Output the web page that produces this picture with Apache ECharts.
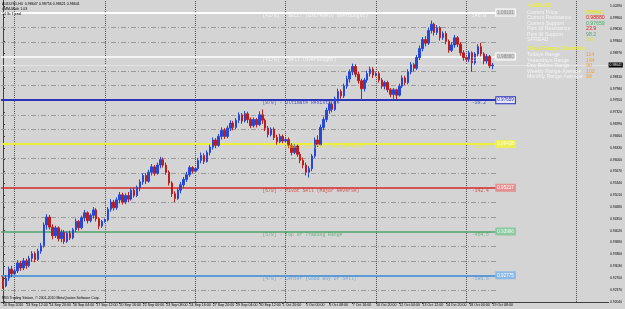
<!DOCTYPE html>
<html><head><meta charset="utf-8">
<script src="https://cdn.jsdelivr.net/npm/echarts@6/dist/echarts.min.js"></script>
<style>html,body{margin:0;padding:0;background:#D4D4D4}#c{width:625px;height:309px}</style>
</head><body><div id="c"></div><script>
// ---------- data ----------
const timeLabels = ['10 Sep 2010','13 Sep 12:00','14 Sep 20:00','16 Sep 04:00','17 Sep 12:00','20 Sep 16:00','22 Sep 00:00','23 Sep 08:00','24 Sep 16:00','27 Sep 20:00','29 Sep 04:00','30 Sep 12:00','1 Oct 20:00','5 Oct 00:00','6 Oct 08:00','7 Oct 16:00','10 Oct 20:00','12 Oct 04:00','13 Oct 12:00','14 Oct 20:00','18 Oct 00:00','19 Oct 08:00'];
const timeLabelBars = [0,8,16,24,32,40,48,56,64,72,80,88,96,104,112,120,128,136,144,152,160,168];
const weekStartBars = [4,35,66,97,128,159,196.6];
const priceTicks = [0.92040,0.92370,0.92700,0.93030,0.93360,0.93690,0.94020,0.94350,0.94680,0.95010,0.95340,0.95670,0.96000,0.96330,0.96660,0.96990,0.97320,0.97650,0.97980,0.98310,0.98640,0.98970,0.99300,0.99630,0.99960,1.00290];
// [open, close, low, high]
const candles = [
[.9262,.9248,.9240,.9275],[.9248,.9270,.9244,.9278],[.9270,.9295,.9262,.9302],[.9295,.9282,.9272,.9304],
[.9282,.9290,.9278,.9296],[.9290,.9312,.9284,.9320],[.9312,.9298,.9290,.9318],[.9298,.9318,.9292,.9326],
[.9318,.9305,.9296,.9324],[.9305,.9325,.9300,.9332],[.9325,.9338,.9315,.9345],[.9338,.9322,.9314,.9344],
[.9322,.9345,.9318,.9352],[.9345,.9360,.9338,.9368],[.9360,.9418,.9355,.9425],[.9418,.9440,.9405,.9448],
[.9440,.9412,.9405,.9446],[.9412,.9388,.9378,.9420],[.9388,.9410,.9382,.9416],[.9410,.9380,.9372,.9414],
[.9380,.9398,.9370,.9405],[.9398,.9372,.9365,.9404],[.9372,.9395,.9368,.9400],[.9395,.9382,.9376,.9402],
[.9382,.9405,.9378,.9410],[.9405,.9428,.9398,.9436],[.9428,.9410,.9402,.9432],[.9410,.9438,.9406,.9444],
[.9438,.9452,.9428,.9460],[.9452,.9430,.9422,.9456],[.9430,.9445,.9425,.9450],[.9445,.9460,.9436,.9468],
[.9460,.9435,.9428,.9465],[.9435,.9415,.9406,.9440],[.9415,.9428,.9410,.9432],[.9428,.9432,.9424,.9436],
[.9432,.9462,.9428,.9468],[.9462,.9482,.9455,.9490],[.9482,.9466,.9458,.9488],[.9466,.9488,.9460,.9495],
[.9488,.9502,.9478,.9510],[.9502,.9482,.9475,.9508],[.9482,.9500,.9476,.9506],[.9500,.9490,.9482,.9510],
[.9490,.9515,.9486,.9520],[.9515,.9500,.9494,.9522],[.9500,.9522,.9496,.9528],[.9522,.9538,.9512,.9545],
[.9538,.9556,.9530,.9562],[.9556,.9540,.9532,.9562],[.9540,.9565,.9536,.9572],[.9565,.9580,.9556,.9588],
[.9580,.9562,.9555,.9585],[.9562,.9585,.9558,.9592],[.9585,.9600,.9576,.9608],[.9600,.9585,.9578,.9606],
[.9585,.9565,.9558,.9592],[.9565,.9535,.9528,.9570],[.9535,.9505,.9496,.9540],[.9505,.9492,.9482,.9512],
[.9492,.9515,.9488,.9520],[.9515,.9530,.9506,.9538],[.9530,.9545,.9522,.9552],[.9545,.9558,.9538,.9566],
[.9558,.9578,.9552,.9584],[.9578,.9568,.9562,.9582],[.9568,.9575,.9564,.9578],[.9575,.9598,.9570,.9605],
[.9598,.9612,.9590,.9620],[.9612,.9595,.9588,.9618],[.9595,.9620,.9592,.9626],[.9620,.9635,.9612,.9642],
[.9635,.9655,.9628,.9662],[.9655,.9640,.9632,.9660],[.9640,.9665,.9636,.9672],[.9665,.9682,.9656,.9690],
[.9682,.9665,.9658,.9688],[.9665,.9688,.9660,.9695],[.9688,.9702,.9680,.9710],[.9702,.9690,.9682,.9708],
[.9690,.9710,.9685,.9716],[.9710,.9725,.9702,.9732],[.9725,.9708,.9700,.9730],[.9708,.9728,.9704,.9736],
[.9728,.9712,.9702,.9734],[.9712,.9695,.9688,.9718],[.9695,.9712,.9690,.9718],[.9712,.9698,.9690,.9716],
[.9698,.9725,.9694,.9735],[.9725,.9710,.9700,.9740],[.9710,.9688,.9680,.9715],[.9688,.9670,.9662,.9694],
[.9670,.9685,.9665,.9690],[.9685,.9662,.9655,.9690],[.9662,.9650,.9642,.9670],[.9650,.9665,.9646,.9672],
[.9665,.9652,.9646,.9670],[.9652,.9656,.9648,.9660],[.9656,.9640,.9632,.9662],[.9640,.9620,.9612,.9646],
[.9620,.9638,.9615,.9644],[.9638,.9615,.9608,.9642],[.9615,.9598,.9590,.9622],[.9598,.9585,.9576,.9606],
[.9585,.9565,.9556,.9592],[.9565,.9575,.9550,.9582],[.9575,.9610,.9568,.9616],[.9610,.9655,.9605,.9662],
[.9655,.9642,.9635,.9668],[.9642,.9690,.9638,.9698],[.9690,.9712,.9682,.9720],[.9712,.9738,.9705,.9745],
[.9738,.9755,.9728,.9762],[.9755,.9740,.9732,.9760],[.9740,.9770,.9736,.9776],[.9770,.9790,.9762,.9798],
[.9790,.9778,.9770,.9796],[.9778,.9805,.9772,.9812],[.9805,.9825,.9798,.9834],[.9825,.9845,.9815,.9852],
[.9845,.9860,.9836,.9868],[.9860,.9838,.9830,.9866],[.9838,.9820,.9812,.9845],[.9820,.9798,.9765,.9826],
[.9798,.9822,.9790,.9828],[.9822,.9840,.9815,.9848],[.9840,.9852,.9832,.9860],[.9852,.9836,.9828,.9858],
[.9836,.9840,.9832,.9844],[.9840,.9822,.9815,.9846],[.9822,.9805,.9798,.9828],[.9805,.9815,.9796,.9820],
[.9815,.9795,.9788,.9820],[.9795,.9782,.9774,.9800],[.9782,.9795,.9770,.9800],[.9795,.9780,.9768,.9798],
[.9780,.9805,.9776,.9812],[.9805,.9828,.9800,.9835],[.9828,.9815,.9808,.9834],[.9815,.9845,.9810,.9852],
[.9845,.9865,.9838,.9872],[.9865,.9855,.9846,.9870],[.9855,.9885,.9850,.9892],[.9885,.9910,.9878,.9918],
[.9910,.9935,.9902,.9942],[.9935,.9925,.9916,.9945],[.9925,.9960,.9920,.9968],[.9960,.9978,.9952,.9988],
[.9978,.9955,.9946,.9982],[.9955,.9968,.9948,.9975],[.9968,.9940,.9932,.9972],[.9940,.9952,.9934,.9958],
[.9952,.9930,.9922,.9958],[.9930,.9905,.9898,.9935],[.9905,.9920,.9900,.9928],[.9920,.9940,.9912,.9948],
[.9940,.9922,.9914,.9945],[.9922,.9898,.9890,.9928],[.9898,.9885,.9876,.9905],[.9885,.9880,.9874,.9888],
[.9880,.9898,.9872,.9904],[.9898,.9870,.9845,.9902],[.9870,.9895,.9865,.9900],[.9895,.9915,.9888,.9922],
[.9915,.9895,.9888,.9926],[.9895,.9875,.9866,.9900],[.9875,.9888,.9868,.9895],[.9888,.9862,.9855,.9892],
[.9862,.98641,.9852,.9870]
];
const levelPrices = [1.00101,0.98880,0.97659,0.96438,0.95217,0.93996,0.92775];
const levelNames = ['[+2/8] - SELL! (Extremely Overbought)','[+1/8] - Sell (Overbought)','[8/8] - Ultimate Resistance','[7/8] - Weak Stop (Stop and Reverse)','[6/8] - Pivot Sell (Major Reverse)','[5/8] - Top of Trading Range','[4/8] - Center (Good Buy or Sell)'];
const levelPips = ['146.0','23.9','-98.2','-220.3','-342.4','-464.5','-586.6'];
const subLevels = [0.99694,0.99287,0.98473,0.98066,0.97252,0.96845,0.96031,0.95624,0.94810,0.94403,0.93589,0.93182,0.92368];
const currentPrice = 0.98641;
const infoRows = ['Current Price','Current Resistance','Current Support','Pips till Resistance','Pips till Support','SPREAD'];
const infoValues = ['0.98641','0.98880','0.97659','23.9','98.2','3.0'];
const statRows = ['Todays Range','Yesterdays Range','Day Before Range','Weekly Range Average','Monthly Range Average'];
const statValues = ['114','144','90','102','99'];

// ---------- styles / layout ----------
const XMIN = -0.68, XMAX = 207.84, LINE_END = 169.3, DESC_X = 88.9, PIPS_X = 160.8;
const YMIN = 0.92032, YMAX = 1.00453;
const UP = '#2548D6', DN = '#BC1E1E';
const LC = ['#FFFFFF','#FFFFFF','#2B35B8','#EEEE3A','#D42A2A','#4EA56A','#5A9BD8'];
const LW = [2,1.5,2,2,1.5,1.5,2];
const BOX_BG = ['#D4D4D4','#D4D4D4','#E6E6F6','#EEEE5A','#E49090','#8CC8A0','#8CB8E6'];
const BOX_BD = ['#FFFFFF','#FFFFFF','#2B35B8','#EEEE5A','#E49090','#8CC8A0','#8CB8E6'];
const BOX_TX = ['#8A8A8A','#8A8A8A','#2B35B8','#FFFFE0','#FFFFFF','#F0FFF0','#FFFFFF'];
const VAL_COL = ['#E6E600','#E02020','#40B060','#E02020','#5E9E7E','#D8D850'];
const SANS = 'Liberation Sans', MONO = 'Liberation Mono';

const markData = [];
weekStartBars.forEach(b => markData.push({xAxis:b, lineStyle:{color:'#505050',type:[1,1],width:1}, label:{show:false}}));
subLevels.forEach(p => markData.push([{coord:[XMIN,p], lineStyle:{color:'#9A9A9A',width:1,type:[5,2,1,2]}, label:{show:false}},{coord:[LINE_END,p]}]));
markData.push([{coord:[XMIN,currentPrice], lineStyle:{color:'#E4E4E4',width:1,type:'solid'},
  label:{show:true,position:'end',distance:0,formatter:currentPrice.toFixed(5),backgroundColor:'#000',color:'#FFF',fontSize:3.4,fontFamily:SANS,padding:[1,1,1,1]}},{coord:[XMAX,currentPrice]}]);
levelPrices.forEach((p,i) => markData.push([{coord:[XMIN,p], lineStyle:{color:LC[i],width:LW[i],type:'solid'},
  label:{show:true,position:'end',distance:0,formatter:p.toFixed(5),fontSize:4.6,fontFamily:SANS,color:BOX_TX[i],backgroundColor:BOX_BG[i],borderColor:BOX_BD[i],borderWidth:1,padding:[1,1,0,1]}},{coord:[LINE_END,p]}]));

const graphics = [];
function txt(x,y,t,color,size,weight){graphics.push({type:'text',x:x,y:y,z:100,silent:true,style:{text:t,fill:color,font:(weight||'normal')+' '+size+'px '+SANS,textVerticalAlign:'middle'}});}
txt(2,4,'AUDUSD,H4  0.98647 0.98756 0.98621 0.98641','#000',3.6);
txt(2,9,'i-MM-Math 1.03','#000',3.6);
txt(2,14,'14 Sr Trend','#000',3.6);
txt(2,298,'MIG Trading Station, \u00A9 2001-2010 MetaQuotes Software Corp.','#000',3.5);
txt(527,5.5,'AUDUSD','#F0F020',6);
const rowY = [12.3,17.6,23.2,28.8,34.3,39.6];
infoRows.forEach((r,i)=>{txt(527,rowY[i],r,'#F4F4F4',5.2);txt(586,rowY[i],infoValues[i],VAL_COL[i],5.2);});
txt(527,48.5,'Daily Range Statistics','#F0F020',6);
const statY = [54.6,60.1,65.7,71.2,76.7];
statRows.forEach((r,i)=>{txt(527,statY[i],r,'#F4F4F4',5.2);txt(586,statY[i],statValues[i],'#F0A040',5.2);});

const chart = echarts.init(document.getElementById('c'));
chart.setOption({
  animation:false,
  backgroundColor:'#D4D4D4',
  grid:{left:0,right:13,top:0,bottom:7},
  xAxis:{type:'value',min:XMIN,max:XMAX,
    axisLine:{show:true,onZero:false,lineStyle:{color:'#404040',width:1}},
    axisTick:{show:true,customValues:timeLabelBars,length:2,lineStyle:{color:'#404040'}},
    axisLabel:{show:true,customValues:timeLabelBars,formatter:v=>timeLabels[timeLabelBars.indexOf(Math.round(v))]||'',align:'left',fontSize:3.6,fontFamily:SANS,color:'#000',margin:1},
    splitLine:{show:false}},
  yAxis:{type:'value',position:'right',min:YMIN,max:YMAX,scale:true,
    axisLine:{show:true,lineStyle:{color:'#404040',width:1}},
    axisTick:{show:true,customValues:priceTicks,length:2,lineStyle:{color:'#404040'}},
    axisLabel:{show:true,customValues:priceTicks,formatter:v=>v.toFixed(5),fontSize:3.3,fontFamily:SANS,color:'#000',margin:1.5},
    splitLine:{show:false}},
  series:[
    {type:'candlestick',z:3,barWidth:2,data:candles.map((c,i)=>[i,c[0],c[1],c[2],c[3]]),encode:{x:0,y:[1,2,3,4]},
     itemStyle:{color:UP,color0:DN,borderColor:UP,borderColor0:DN,borderWidth:1}},
    {type:'scatter',z:4,clip:false,symbolSize:1,itemStyle:{color:'rgba(0,0,0,0)'},silent:true,
     data:levelPrices.map((p,i)=>({value:[PIPS_X,p],label:{show:true,formatter:levelPips[i],color:LC[i]}})),
     label:{position:'right',distance:0,offset:[0,3],fontSize:4.7,fontFamily:MONO},
     markLine:{z:1,silent:true,symbol:['none','none'],animation:false,data:markData}},
    {type:'scatter',z:4,clip:false,symbolSize:1,itemStyle:{color:'rgba(0,0,0,0)'},silent:true,
     data:levelPrices.map((p,i)=>({value:[DESC_X,p],label:{show:true,formatter:levelNames[i],color:LC[i]}})),
     label:{position:'right',distance:0,offset:[0,3],fontSize:4.75,fontFamily:MONO}}
  ],
  graphic:{elements:graphics}
});
</script></body></html>
